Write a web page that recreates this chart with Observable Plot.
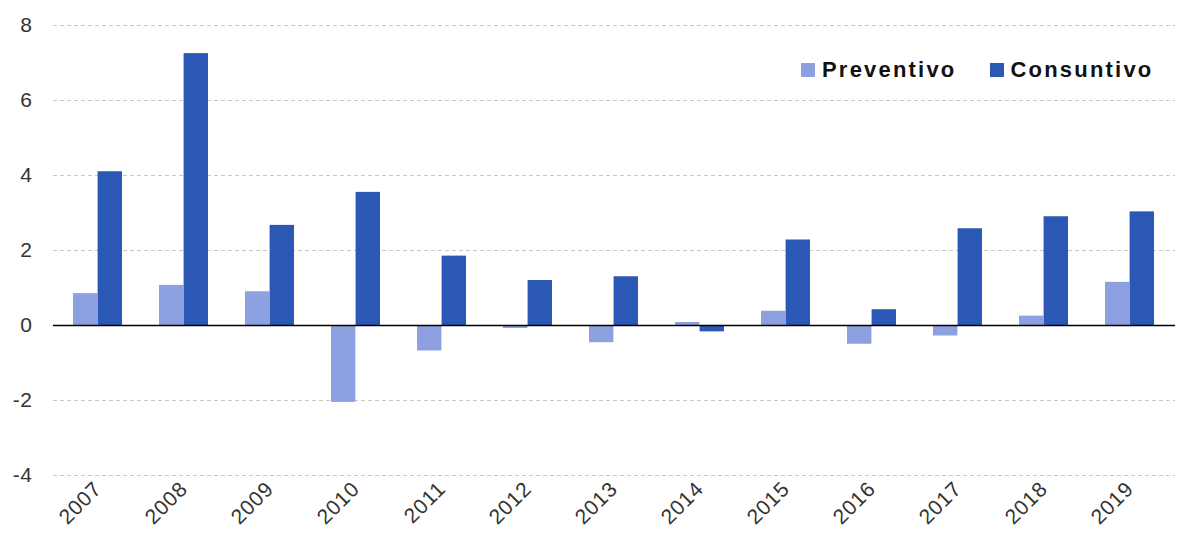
<!DOCTYPE html>
<html>
<head>
<meta charset="utf-8">
<script src="https://cdn.jsdelivr.net/npm/d3@7"></script>
<script src="https://cdn.jsdelivr.net/npm/@observablehq/plot@0.6"></script>
<style>
  html, body { margin: 0; padding: 0; background: #fff; }
  #wrap { position: relative; width: 1187px; height: 533px; font-family: "Liberation Sans", Arial, sans-serif; }
  #legend { position: absolute; top: 57px; left: 801px; display: flex; align-items: center; font-weight: bold; font-size: 22px; letter-spacing: 2.2px; color: #111; line-height: 26px; }
  #legend .sw { display: inline-block; width: 14px; height: 14px; margin-right: 7px; }
  #legend .item { display: flex; align-items: center; margin-right: 33px; }
  g[aria-label^="x-axis"] text { font-size: 21px; letter-spacing: 0.8px; }
  g[aria-label^="y-axis"] text { font-size: 21px; letter-spacing: 0.5px; }
</style>
</head>
<body>
<div id="wrap"><div id="chart"></div><div id="legend"></div></div>
<script>
const years = ["2007","2008","2009","2010","2011","2012","2013","2014","2015","2016","2017","2018","2019"];
const preventivo = [0.85, 1.07, 0.9, -2.05, -0.68, -0.08, -0.46, 0.08, 0.38, -0.5, -0.28, 0.25, 1.15];
const consuntivo = [4.1, 7.25, 2.67, 3.55, 1.85, 1.2, 1.3, -0.17, 2.28, 0.42, 2.58, 2.9, 3.03];
const seriesNames = ["Preventivo", "Consuntivo"];
const seriesColors = ["#8DA0E0", "#2B57B5"];
const yTicks = [-4, -2, 0, 2, 4, 6, 8];

const W = 1187, H = 533, mL = 53, mR = 12, mT = 25, mB = 58;
const pInner = 0.43, pOuter = 0.215;
const step = (W - mL - mR) / (years.length - pInner + 2 * pOuter);
const bw = step * (1 - pInner);

const prevData = years.map((y, i) => ({year: y, value: preventivo[i]}));
const consData = years.map((y, i) => ({year: y, value: consuntivo[i]}));

const chart = Plot.plot({
  width: W, height: H,
  marginLeft: mL, marginRight: mR, marginTop: mT, marginBottom: mB,
  style: {fontFamily: '"Liberation Sans", Arial, sans-serif', fontSize: "20px", color: "#333", background: "#fff"},
  x: {type: "band", domain: years, paddingInner: pInner, paddingOuter: pOuter, label: null, tickSize: 0, tickPadding: 10, tickRotate: -45},
  y: {domain: [-4, 8], ticks: yTicks, tickFormat: d => String(d), label: null, tickSize: 0, tickPadding: 21},
  marks: [
    Plot.ruleY(yTicks.filter(d => d !== 0), {stroke: "#c8c8c8", strokeDasharray: "4,3", strokeWidth: 1}),
    Plot.barY(prevData, {x: "year", y: "value", fill: seriesColors[0], insetRight: bw / 2}),
    Plot.barY(consData, {x: "year", y: "value", fill: seriesColors[1], insetLeft: bw / 2}),
    Plot.ruleY([0], {stroke: "#000", strokeWidth: 1.5})
  ]
});
document.getElementById("chart").appendChild(chart);

const legend = document.getElementById("legend");
seriesNames.forEach((n, i) => {
  const item = document.createElement("span");
  item.className = "item";
  const sw = document.createElement("span");
  sw.className = "sw";
  sw.style.background = seriesColors[i];
  item.appendChild(sw);
  item.appendChild(document.createTextNode(n));
  legend.appendChild(item);
});
</script>
</body>
</html>
